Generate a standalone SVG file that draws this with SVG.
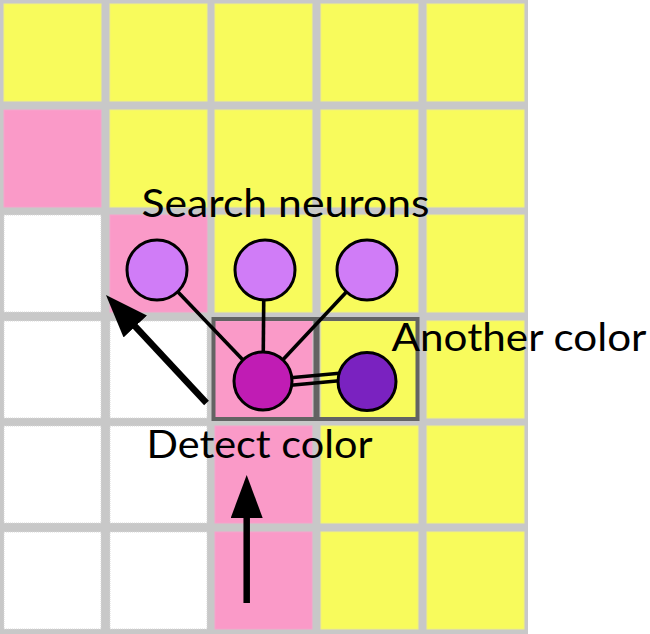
<svg xmlns="http://www.w3.org/2000/svg" width="650" height="634" viewBox="0 0 650 634">
  <defs>
    <style>
      .y { fill: #f8fb5c; stroke: #f1f27a; stroke-width: 1; }
      .p { fill: #fa9ac8; stroke: #f6a3cb; stroke-width: 1; }
      .w { fill: #ffffff; stroke: #d8d8d8; stroke-width: 1; stroke-dasharray: 1 1; }
      .frame { fill: none; stroke: #636363; stroke-width: 4; }
      .link { stroke: #000; stroke-width: 3.6; fill: none; }
      .neuron { stroke: #000; stroke-width: 3; }
      .arrow { stroke: #000; stroke-width: 6.5; fill: none; }
      .label { font-family: "Lato", "Liberation Sans", sans-serif; font-size: 39px; fill: #000; }
    </style>
    <marker id="head" markerUnits="userSpaceOnUse" viewBox="0 0 43 32" markerWidth="43" markerHeight="32" refX="13" refY="16" orient="auto">
      <path d="M0,0 L43,16 L0,32 Z" fill="#000"/>
    </marker>
  </defs>

  <g id="grid">
    <rect x="0" y="0" width="528" height="634" fill="#c8c8c8"/>
    <!-- row 0 -->
    <rect class="y" x="4" y="4" width="97" height="97"/>
    <rect class="y" x="110" y="4" width="97" height="97"/>
    <rect class="y" x="215" y="4" width="97" height="97"/>
    <rect class="y" x="321" y="4" width="97" height="97"/>
    <rect class="y" x="427" y="4" width="97" height="97"/>
    <!-- row 1 -->
    <rect class="p" x="4" y="110" width="97" height="97"/>
    <rect class="y" x="110" y="110" width="97" height="97"/>
    <rect class="y" x="215" y="110" width="97" height="97"/>
    <rect class="y" x="321" y="110" width="97" height="97"/>
    <rect class="y" x="427" y="110" width="97" height="97"/>
    <!-- row 2 -->
    <rect class="w" x="4" y="215" width="97" height="97"/>
    <rect class="p" x="110" y="215" width="97" height="97"/>
    <rect class="y" x="215" y="215" width="97" height="97"/>
    <rect class="y" x="321" y="215" width="97" height="97"/>
    <rect class="y" x="427" y="215" width="97" height="97"/>
    <!-- row 3 -->
    <rect class="w" x="4" y="321" width="97" height="97"/>
    <rect class="w" x="110" y="321" width="97" height="97"/>
    <rect class="p" x="215" y="321" width="97" height="97"/>
    <rect class="y" x="321" y="321" width="97" height="97"/>
    <rect class="y" x="427" y="321" width="97" height="97"/>
    <!-- row 4 -->
    <rect class="w" x="4" y="426" width="97" height="97"/>
    <rect class="w" x="110" y="426" width="97" height="97"/>
    <rect class="p" x="215" y="426" width="97" height="97"/>
    <rect class="y" x="321" y="426" width="97" height="97"/>
    <rect class="y" x="427" y="426" width="97" height="97"/>
    <!-- row 5 -->
    <rect class="w" x="4" y="532" width="97" height="97"/>
    <rect class="w" x="110" y="532" width="97" height="97"/>
    <rect class="p" x="215" y="532" width="97" height="97"/>
    <rect class="y" x="321" y="532" width="97" height="97"/>
    <rect class="y" x="427" y="532" width="97" height="97"/>
  </g>

  <g id="focus-frames">
    <rect class="frame" x="213.5" y="319" width="102" height="100"/>
    <rect class="frame" x="317.5" y="319" width="100" height="100"/>
  </g>

  <g id="connectors">
    <line class="link" x1="157" y1="270" x2="263" y2="381"/>
    <line class="link" x1="264" y1="270" x2="263" y2="381"/>
    <line class="link" x1="367" y1="270" x2="263" y2="381"/>
    <line class="link" x1="288" y1="378" x2="342" y2="373"/>
    <line class="link" x1="288" y1="385.5" x2="342" y2="380.5"/>
  </g>

  <g id="search-neuron-1"><circle class="neuron" cx="157" cy="270" r="30" fill="#d07cf7"/></g>
  <g id="search-neuron-2"><circle class="neuron" cx="265" cy="270" r="30" fill="#d07cf7"/></g>
  <g id="search-neuron-3"><circle class="neuron" cx="367" cy="270" r="30" fill="#d07cf7"/></g>
  <g id="detect-neuron"><circle class="neuron" cx="263" cy="381" r="29" fill="#c01cb4"/></g>
  <g id="other-neuron"><circle class="neuron" cx="367" cy="381.5" r="29" fill="#7a22c0"/></g>

  <g id="arrows">
    <line class="arrow" x1="206.5" y1="403" x2="126.4" y2="317" marker-end="url(#head)"/>
    <line class="arrow" x1="246.7" y1="603" x2="246.7" y2="505" marker-end="url(#head)"/>
  </g>

  <g id="labels">
    <text class="label" x="141.5" y="216.5" textLength="288" lengthAdjust="spacingAndGlyphs">Search neurons</text>
    <text class="label" x="391.5" y="350.5" textLength="255" lengthAdjust="spacingAndGlyphs">Another color</text>
    <text class="label" x="146.5" y="458.3" textLength="226" lengthAdjust="spacingAndGlyphs">Detect color</text>
  </g>
</svg>
